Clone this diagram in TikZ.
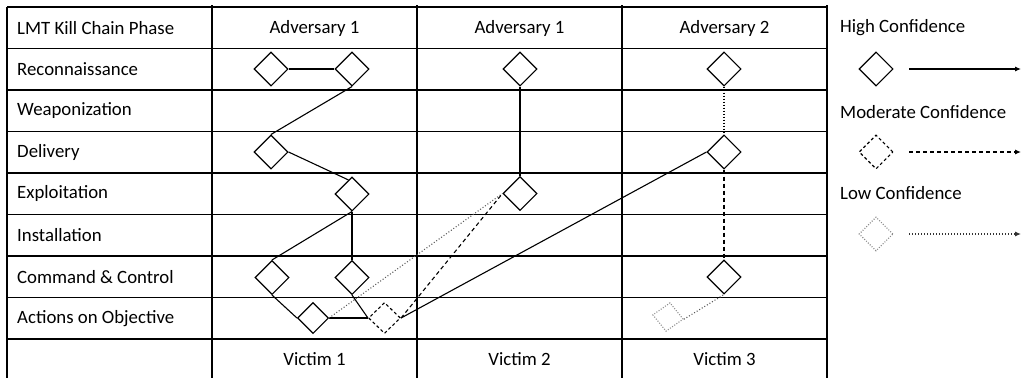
\documentclass[tikz,border=0pt]{standalone}
\usepackage{fontspec}
\setmainfont{Carlito}
\usetikzlibrary{shapes.geometric,calc,arrows.meta}

\begin{document}
\begin{tikzpicture}[x=1pt,y=-1pt,
  txt/.style={inner sep=0pt,font=\fontsize{18.8}{21}\selectfont},
  lbl/.style={txt,anchor=west},
  grid/.style={line width=1.3pt},
  dia/.style={diamond,draw,line width=1.1pt,minimum width=34pt,minimum height=34pt,inner sep=0pt},
  hiconf/.style={dia},
  modconf/.style={dia,dash pattern=on 3pt off 2.5pt},
  lowconf/.style={dia,draw=black!45,dash pattern=on 1pt off 1.6pt},
  hiline/.style={line width=1.1pt},
  modline/.style={line width=1.1pt,dash pattern=on 4pt off 3pt},
  lowline/.style={line width=1.1pt,draw=black!65,dash pattern=on 1pt off 2pt},
  tip/.style={-{Latex[length=6pt,width=5pt]}}
]
\useasboundingbox (0,0) rectangle (1022,378);

% table grid
\foreach \y in {7,48.7,90,131.5,173,214.5,256,297.5,339}
  \draw[grid] (7,\y) -- (827,\y);
\draw[grid] (7,7) -- (7,378);
\foreach \x in {212,417,622,827}
  \draw[grid] (\x,5) -- (\x,378);

% header row
\node[lbl] (hphase) at (17,28) {LMT Kill Chain Phase};
\node[txt] (hadv1) at (314.5,28) {Adversary 1};
\node[txt] (hadv1b) at (519.5,28) {Adversary 1};
\node[txt] (hadv2) at (724.5,28) {Adversary 2};

% phase labels
\node[lbl] (precon) at (17,69.3) {Reconnaissance};
\node[lbl] (pweap) at (17,110.8) {Weaponization};
\node[lbl] (pdel) at (17,152.3) {Delivery};
\node[lbl] (pexp) at (17,193.8) {Exploitation};
\node[lbl] (pinst) at (17,235.3) {Installation};
\node[lbl] (pcc) at (17,276.8) {Command \& Control};
\node[lbl] (pact) at (17,318.3) {Actions on Objective};

% victim row
\node[txt] (v1) at (314.5,359) {Victim 1};
\node[txt] (v2) at (519.5,359) {Victim 2};
\node[txt] (v3) at (724.5,359) {Victim 3};

% adversary 1, victim 1
\node[hiconf] (reca) at (271,69) {};
\node[hiconf] (recb) at (352,69) {};
\node[hiconf] (dela) at (271,152) {};
\node[hiconf] (expa) at (352,194) {};
\node[hiconf] (cca) at (272,277.5) {};
\node[hiconf] (ccb) at (352,277.5) {};
\node[hiconf,minimum width=31pt,minimum height=31pt] (acta) at (313,318) {};
\node[modconf,minimum width=32pt,minimum height=31pt] (actb) at (384.5,318) {};

% adversary 1, victim 2
\node[hiconf] (recc) at (520,69) {};
\node[hiconf] (expc) at (520,193.5) {};

% adversary 2, victim 3
\node[hiconf] (recd) at (724,69) {};
\node[hiconf] (deld) at (724,152) {};
\node[hiconf] (ccd) at (724,277) {};
\node[lowconf,minimum width=31pt,minimum height=29pt,rotate=-8] (actd) at (668,317) {};

% connectors
\draw[hiline] (reca.east) -- (recb.west);
\draw[hiline] (recb.south) -- (dela.north);
\draw[hiline] (dela.east) -- ($(expa.north)!0.2!(expa.west)$);
\draw[hiline] (expa.south) -- (cca.north);
\draw[hiline] (expa.south) -- (ccb.north);
\draw[hiline] (cca.south) -- (acta.west);
\draw[hiline] (acta.east) -- (actb.west);
\draw[hiline] (ccb.south) -- (actb.west);
\draw[lowline] (acta.east) -- (expc.west);
\draw[modline] (actb.east) -- (expc.west);
\draw[hiline] (actb.east) -- (deld.west);
\draw[hiline] (recc.south) -- (expc.north);
\draw[lowline,draw=black] (recd.south) -- (deld.north);
\draw[modline] (deld.south) -- (ccd.north);
\draw[lowline] (actd.east) -- (ccd.south);

% legend
\node[lbl] (lhigh) at (840,28) {High Confidence};
\node[hiconf] (lhd) at (876,69) {};
\coordinate (lha) at (909,69);
\coordinate (lhb) at (1021,69);
\draw[hiline,tip] (lha) -- (lhb);

\node[lbl] (lmod) at (840,112) {Moderate Confidence};
\node[modconf] (lmd) at (876,152) {};
\coordinate (lma) at (909,152);
\coordinate (lmb) at (1021,152);
\draw[modline,tip] (lma) -- (lmb);

\node[lbl] (llow) at (840,193) {Low Confidence};
\node[lowconf] (lld) at (876,234) {};
\coordinate (lla) at (909,234);
\coordinate (llb) at (1021,234);
\draw[lowline,draw=black!80,tip] (lla) -- (llb);
\end{tikzpicture}
\end{document}
